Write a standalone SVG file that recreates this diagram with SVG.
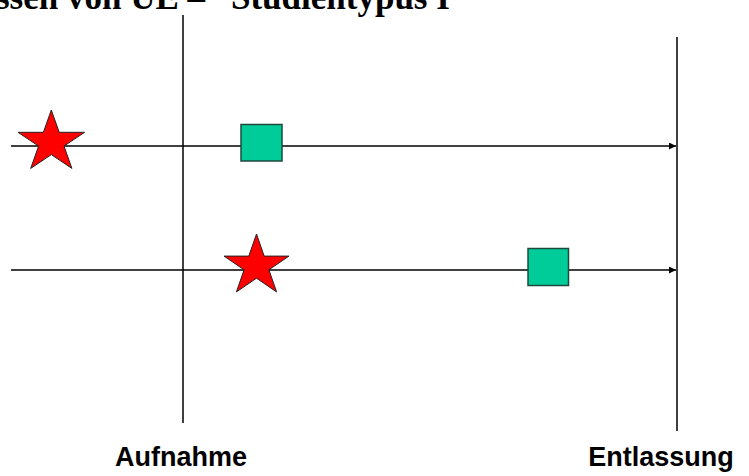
<svg xmlns="http://www.w3.org/2000/svg" width="749" height="476" viewBox="0 0 749 476">
  <style>
    .title { font-family: "Liberation Serif", "Times New Roman", serif; font-weight: bold; font-size: 35px; fill: #000; }
    .label { font-family: "Liberation Sans", Arial, sans-serif; font-weight: bold; font-size: 27px; fill: #000; }
    .axis { stroke: #000; stroke-width: 1.5; fill: none; }
    .track { stroke: #000; stroke-width: 1.3; fill: none; }
    .event { fill: #FF0000; stroke: #222; stroke-width: 1; }
    .outcome { fill: #00CC99; stroke: #1E4A3E; stroke-width: 1.5; }
  </style>
  <defs>
    <marker id="arrow" markerWidth="8" markerHeight="8" refX="7" refY="3.5" orient="auto" markerUnits="userSpaceOnUse">
      <path d="M0,0 L7,3.5 L0,7 Z" fill="#000"/>
    </marker>
  </defs>

  <text class="title" y="9"><tspan x="-4">ssen von UE –</tspan><tspan x="231">Studientypus I</tspan></text>

  <!-- time axes: admission and discharge -->
  <g id="axis-aufnahme">
    <line class="axis" x1="183" y1="15" x2="183" y2="423"/>
    <text class="label" x="181" y="466" text-anchor="middle">Aufnahme</text>
  </g>
  <g id="axis-entlassung">
    <line class="axis" x1="677" y1="37" x2="677" y2="431"/>
    <text class="label" x="661" y="466" text-anchor="middle">Entlassung</text>
  </g>

  <!-- patient timelines -->
  <g id="connectors">
    <line class="track" x1="11" y1="146" x2="676" y2="146" marker-end="url(#arrow)"/>
    <line class="track" x1="11" y1="270" x2="676" y2="270" marker-end="url(#arrow)"/>
  </g>

  <g id="star-1">
    <polygon class="event" points="51.3,110 59.2,132.3 84.6,132.3 64,146.1 71.9,168.4 51.3,154.6 30.7,168.4 38.6,146.1 18,132.3 43.4,132.3"/>
  </g>
  <g id="square-1">
    <rect class="outcome" x="241" y="124.5" width="41" height="36.5"/>
  </g>
  <g id="star-2">
    <polygon class="event" points="256.5,234 264.2,256.1 289,256.1 268.9,269.8 276.6,291.9 256.5,278.2 236.4,291.9 244.1,269.8 224,256.1 248.8,256.1"/>
  </g>
  <g id="square-2">
    <rect class="outcome" x="528" y="248.5" width="40.5" height="37"/>
  </g>
</svg>
